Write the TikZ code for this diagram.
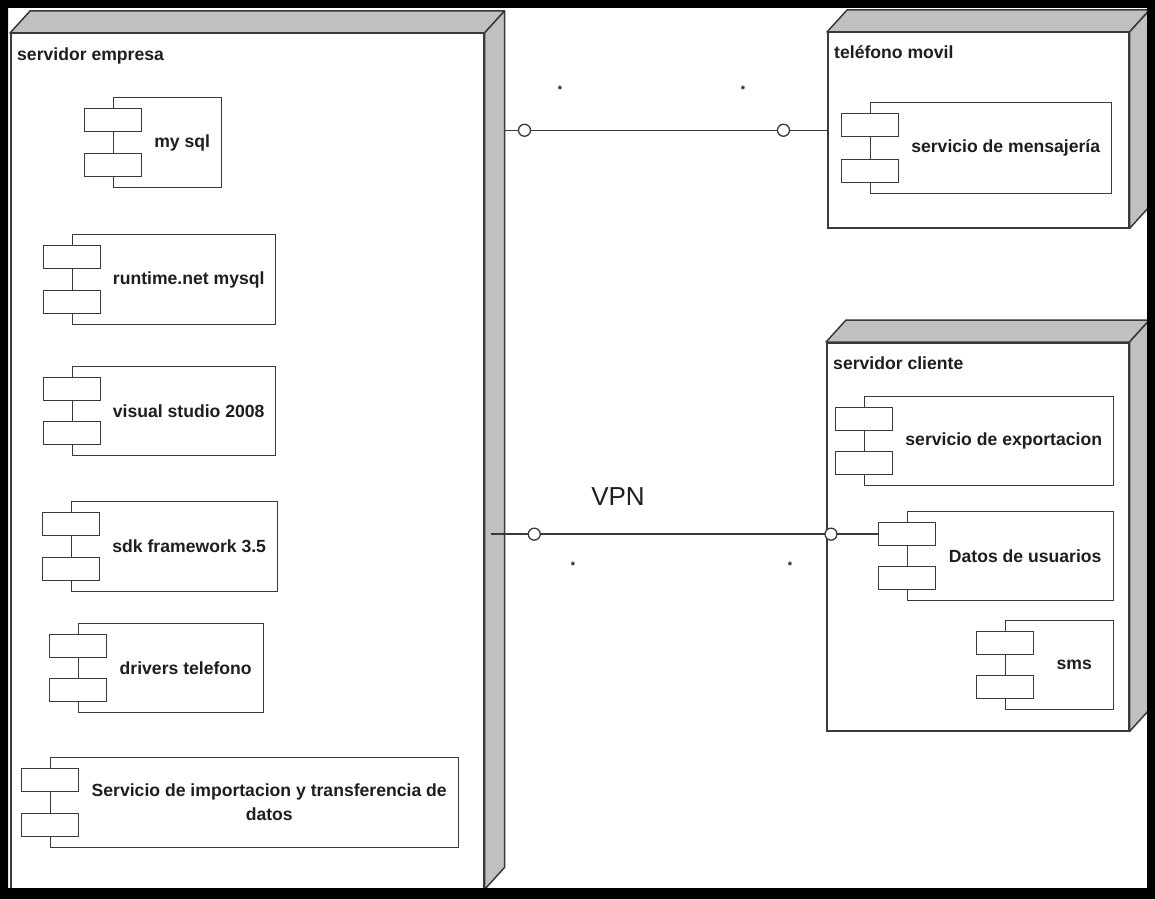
\documentclass[tikz,border=0pt]{standalone}
\usepackage{fontspec}
\setmainfont{Liberation Sans}
\usepackage{xcolor}
\definecolor{cLine}{HTML}{3A3A3A}
\definecolor{cFace}{HTML}{C0C0C0}
\definecolor{cText}{HTML}{1E1E1E}
\usepackage{tikz}
\usetikzlibrary{positioning,calc}
\tikzset{
  node-device/.style={draw=cLine,line width=1.5pt,fill=white,inner sep=0pt,anchor=north west},
  node-face/.style={draw=cLine,line width=1.5pt,fill=cFace,line join=round},
  node-comp/.style={draw=cLine,line width=1.3pt,fill=white,inner sep=0pt,anchor=north west},
  node-port/.style={draw=cLine,line width=1.3pt,fill=white,inner sep=0pt,
    minimum width=57pt,minimum height=23pt},
  label-dev/.style={anchor=base west,inner sep=0pt,text=cText,
    font=\fontsize{17.6}{20}\selectfont\bfseries},
  label-comp/.style={inner sep=0pt,align=center,text=cText,
    font=\fontsize{17.6}{24}\selectfont\bfseries},
  link/.style={draw=cLine,line width=1.5pt},
  iface/.style={circle,draw=cLine,line width=1.3pt,fill=white,minimum size=12pt,inner sep=0pt},
  mult/.style={inner sep=0pt,text=cText,font=\fontsize{11}{11}\selectfont\bfseries},
}
% nodo 3D: nombre, x1, y1, x2, y2, etiqueta
\newcommand{\devnode}[6]{%
  \node[node-device,minimum width={#4-#2},minimum height={#5-#3}] (#1) at (#2,#3) {};
  \filldraw[node-face] (#1.north west) -- ++(20,-22) -- ($(#1.north east)+(20,-22)$)
    -- (#1.north east) -- cycle;
  \filldraw[node-face] (#1.north east) -- ++(20,-22) -- ($(#1.south east)+(20,-22)$)
    -- (#1.south east) -- cycle;
  \node[label-dev] (#1-label) at ($(#1.north west)+(7,27)$) {#6};
}
% componente: nombre, x1, y1, x2, y2, texto
\newcommand{\compnode}[6]{%
  \node[node-comp,minimum width={#4-#2},minimum height={#5-#3}] (#1) at (#2,#3) {};
  \node[node-port,anchor=north] (#1-a) at ($(#1.north west)+(0,11)$) {};
  \node[node-port,anchor=south] (#1-b) at ($(#1.south west)+(0,-11)$) {};
  \node[label-comp] (#1-text) at ($(#1-a.east |- #1.center)!0.5!(#1.east)$) {#6};
}

\begin{document}
\begin{tikzpicture}[x=1pt,y=-1pt]
  \useasboundingbox (0,0) rectangle (1155,899);
  \fill[white] (0,0) rectangle (1155,899);

  \devnode{emp}{10}{33}{483}{888}{servidor empresa}
  \devnode{tel}{827}{32}{1128}{227}{teléfono movil}
  \devnode{cli}{826}{342}{1128}{730}{servidor cliente}

  \compnode{mysql}{113}{97}{221}{187}{my sql}
  \compnode{runtime}{72}{234}{275}{324}{runtime.net mysql}
  \compnode{vstudio}{72}{366}{275}{455}{visual studio 2008}
  \compnode{sdk}{71}{501}{277}{591}{sdk framework 3.5}
  \compnode{drivers}{78}{623}{263}{712}{drivers telefono}
  \compnode{import}{50}{757}{458}{847}{Servicio de importacion y transferencia de\\datos}

  \compnode{msg}{870}{102}{1111}{193}{servicio de mensajería}
  \compnode{export}{864}{396}{1113}{485}{servicio de exportacion}
  \compnode{datos}{907}{511}{1113}{600}{Datos de usuarios}
  \compnode{sms}{1005}{620}{1113}{709}{sms}

  \coordinate (emp-back) at ($(emp.east)+(20,0)$);
  \coordinate (emp-in) at ($(emp.east)+(6,0)$);

  \draw[link] (tel.west -| emp-back) -- (tel.west)
    node[iface,pos=0.062] (tel-i1) {}
    node[iface,pos=0.865] (tel-i2) {};
  \node[mult] (tel-m1) at (560,90) {*};
  \node[mult] (tel-m2) at (743,90) {*};

  \draw[link] (datos-a.west -| emp-in) -- (datos-a.west)
    node[iface,pos=0.113] (vpn-i1) {}
    node[iface,pos=0.879] (vpn-i2) {};
  \node[mult] (vpn-m1) at (573,566) {*};
  \node[mult] (vpn-m2) at (790,566) {*};
  \node[font=\fontsize{26}{30}\selectfont,text=cText] (vpn) at (618,497) {VPN};

  % marco negro
  \fill[black,even odd rule] (0,0) rectangle (1155,899) (8,8) rectangle (1147,888);
\end{tikzpicture}
\end{document}
